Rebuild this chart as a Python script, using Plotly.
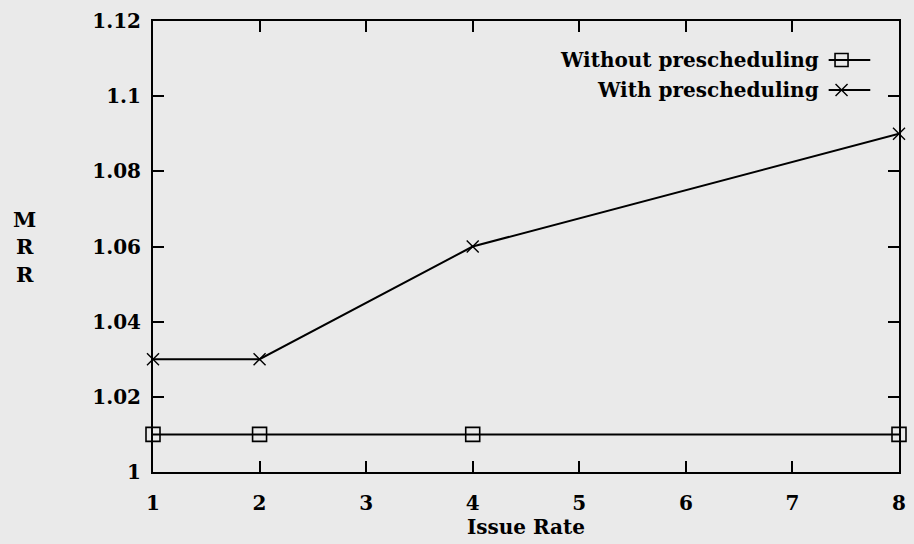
import plotly.graph_objects as go

issue_rate = [1, 2, 4, 8]
without_presched = [1.01, 1.01, 1.01, 1.01]
with_presched = [1.03, 1.03, 1.06, 1.09]
x_ticks = [1, 2, 3, 4, 5, 6, 7, 8]
y_ticks = [1.0, 1.02, 1.04, 1.06, 1.08, 1.10, 1.12]
y_tick_text = ["1", "1.02", "1.04", "1.06", "1.08", "1.1", "1.12"]
series_names = ["Without prescheduling", "With prescheduling"]

FONT = "DejaVu Serif"
BG = "#eaeaea"
W, H = 914, 544
ML, MR, MT, MB = 153, 8, 21, 72
PW, PH = W - ML - MR, H - MT - MB


def px(x):
    return (x - ML) / PW


def py(y):
    return (H - MB - y) / PH


fig = go.Figure()
fig.add_trace(go.Scatter(x=issue_rate, y=without_presched, mode="lines+markers",
                         name=series_names[0], cliponaxis=False,
                         line=dict(color="black", width=2),
                         marker=dict(symbol="square-open", size=14, color="black",
                                     line=dict(width=1.6))))
fig.add_trace(go.Scatter(x=issue_rate, y=with_presched, mode="lines+markers",
                         name=series_names[1], cliponaxis=False,
                         line=dict(color="black", width=2),
                         marker=dict(symbol="x-thin-open", size=12, color="black",
                                     line=dict(width=1.4, color="black"))))

tickfont = dict(family=FONT, size=20, color="black", weight="bold")
axis_common = dict(showline=True, linecolor="black", linewidth=2, mirror="ticks",
                   ticks="inside", ticklen=11, tickwidth=1.5, tickcolor="black",
                   showgrid=False, zeroline=False, tickfont=tickfont)

fig.update_xaxes(range=[1, 8], tickvals=x_ticks, ticklabelstandoff=12,
                 title=dict(text="Issue Rate", font=dict(family=FONT, size=20, color="black",
                                                           weight="bold"),
                            standoff=0),
                 **axis_common)
fig.update_yaxes(range=[1.0, 1.12], tickvals=y_ticks, ticktext=y_tick_text,
                 ticklabelstandoff=6, **axis_common)

# custom legend (text on the left, key on the right)
rows = [py(60), py(90)]
for i, name in enumerate(series_names):
    fig.add_annotation(x=px(827), y=rows[i], xref="paper", yref="paper", text=name,
                       showarrow=False, xanchor="right", yanchor="middle",
                       font=dict(family=FONT, size=20, color="black", weight="bold"))
    fig.add_shape(type="line", xref="paper", yref="paper", x0=px(835), x1=px(877),
                  y0=rows[i], y1=rows[i], line=dict(color="black", width=1.8))
fig.add_shape(type="rect", xref="paper", yref="paper", xsizemode="pixel", ysizemode="pixel",
              xanchor=px(848), yanchor=rows[0], x0=-6.5, x1=6.5, y0=-6.5, y1=6.5,
              line=dict(color="black", width=1.6))
fig.add_shape(type="path", xref="paper", yref="paper", xsizemode="pixel", ysizemode="pixel",
              xanchor=px(848), yanchor=rows[1], path="M -6,-6 L 6,6 M -6,6 L 6,-6",
              line=dict(color="black", width=1.4))

fig.add_annotation(x=px(23), y=py(247), xref="paper", yref="paper", text="M<br>R<br>R",
                   showarrow=False, xanchor="center", yanchor="middle",
                   font=dict(family=FONT, size=21, color="black", weight="bold"))

fig.update_layout(width=W, height=H, showlegend=False,
                  margin=dict(l=ML, r=MR, t=MT, b=MB),
                  paper_bgcolor=BG, plot_bgcolor=BG)

fig.write_html("out.html", config={"displayModeBar": False},
               post_script="document.body.style.margin='0';document.body.style.background='%s';" % BG)
